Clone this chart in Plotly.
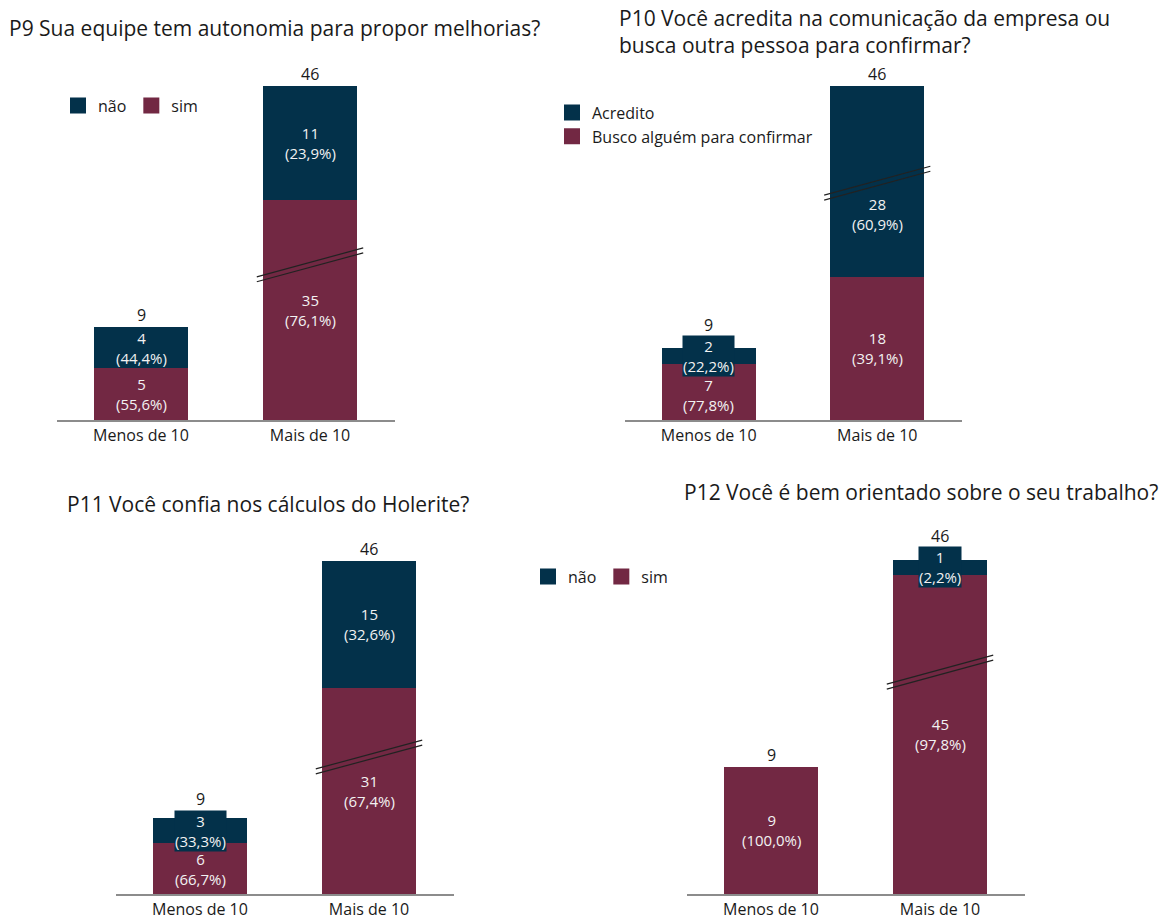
import plotly.graph_objects as go

# ---------------- data ----------------
categories = ["Menos de 10", "Mais de 10"]

p9_sim = [5, 35]
p9_nao = [4, 11]

p10_busco = [7, 18]
p10_acredito = [2, 28]

p11_sim = [6, 31]
p11_nao = [3, 15]

p12_sim = [9, 45]
p12_nao = [0, 1]

# ---------------- style ----------------
NAVY = "#03314a"
MAROON = "#722843"
W, H = 1164, 920
FONT = "Open Sans"
TXT = "#1a1a1a"
LBL = 15      # value-label font size
BOX_PX = 39   # approx. height (px) of a two-line value label


def fx(p):
    return p / W


def fy(p):
    return 1 - p / H


panels = [
    dict(title="P9 Sua equipe tem autonomia para propor melhorias?", tx=7, ty=28,
         bottom=("sim", p9_sim, MAROON), top=("não", p9_nao, NAVY),
         xdom=(56.5, 394.5), ydom=(40, 422), scale=10.4,
         cut=13.7, cut_series="bottom", cut_cat=1, brk=15.0,
         legend="legend"),
    dict(title="P10 Você acredita na comunicação da empresa ou<br>busca outra pessoa para confirmar?", tx=617, ty=31.5,
         bottom=("Busco alguém para confirmar", p10_busco, MAROON), top=("Acredito", p10_acredito, NAVY),
         xdom=(624.5, 961.5), ydom=(40, 422), scale=8.0,
         cut=4.0, cut_series="top", cut_cat=1, brk=29.75,
         legend="legend2"),
    dict(title="P11 Você confia nos cálculos do Holerite?", tx=65, ty=506,
         bottom=("sim", p11_sim, MAROON), top=("não", p11_nao, NAVY),
         xdom=(115.5, 453.5), ydom=(520, 898), scale=8.5,
         cut=6.6, cut_series="bottom", cut_cat=1, brk=16.2,
         legend=None),
    dict(title="P12 Você é bem orientado sobre o seu trabalho?", tx=682, ty=494,
         bottom=("sim", p12_sim, MAROON), top=("não", p12_nao, NAVY),
         xdom=(686.5, 1024.5), ydom=(520, 898), scale=14.2,
         cut=22.4, cut_series="bottom", cut_cat=1, brk=15.7,
         legend="legend3"),
]


def pct(v, t):
    return f"({100.0 * v / t:.1f}%)".replace(".", ",")


fig = go.Figure()
annotations = []
shapes = []

for k, p in enumerate(panels, start=1):
    xa = "x" if k == 1 else f"x{k}"
    ya = "y" if k == 1 else f"y{k}"
    s = p["scale"]
    bname, bvals, bcol = p["bottom"]
    tname, tvals, tcol = p["top"]
    bdisp = [v - (p["cut"] if (p["cut_series"] == "bottom" and i == p["cut_cat"]) else 0) for i, v in enumerate(bvals)]
    tdisp = [v - (p["cut"] if (p["cut_series"] == "top" and i == p["cut_cat"]) else 0) for i, v in enumerate(tvals)]
    grp = f"g{k}"

    fig.add_trace(go.Bar(x=[0, 1], y=bdisp, name=bname, marker=dict(color=bcol, line=dict(width=0)),
                         customdata=bvals, hovertemplate="%{customdata}<extra>" + bname + "</extra>",
                         xaxis=xa, yaxis=ya, showlegend=False, legendgroup=grp + "b"))
    fig.add_trace(go.Bar(x=[0, 1], y=tdisp, name=tname, marker=dict(color=tcol, line=dict(width=0)),
                         customdata=tvals, hovertemplate="%{customdata}<extra>" + tname + "</extra>",
                         xaxis=xa, yaxis=ya, showlegend=False, legendgroup=grp + "t"))
    if p["legend"] is not None:
        for nm, col, g in ((tname, tcol, grp + "t"), (bname, bcol, grp + "b")):
            fig.add_trace(go.Scatter(x=[None], y=[None], mode="markers", name=nm,
                                     marker=dict(symbol="square", size=18, color=col),
                                     xaxis=xa, yaxis=ya, legend=p["legend"], legendgroup=g,
                                     hoverinfo="skip"))

    brk = p["brk"]
    half = (BOX_PX / 2) / s
    for i in range(2):
        total = bvals[i] + tvals[i]
        # label centres (display units)
        cb = bdisp[i] / 2
        ct = bdisp[i] + tdisp[i] / 2
        if i == p["cut_cat"]:
            if abs(cb - brk) * s < 25:
                cb = brk - 31.0 / s
            if abs(ct - brk) * s < 25:
                ct = brk - 31.0 / s
        bg_b = bdisp[i] * s < BOX_PX
        bg_t = tvals[i] > 0 and tdisp[i] * s < BOX_PX
        # keep the lower label clear of an overflowing upper label box
        if bg_t and bvals[i] > 0 and (cb + half) > (ct - half):
            cb -= min((cb + half) - (ct - half), 5.0 / s)
        top_box = 0
        for v, c, col, bg in ((bvals[i], cb, bcol, bg_b), (tvals[i], ct, tcol, bg_t)):
            if v <= 0:
                continue
            if bg:
                top_box = max(top_box, c + half)
            annotations.append(dict(
                x=i, y=c, xref=xa, yref=ya, text=f"{v}<br>{pct(v, total)}", showarrow=False,
                font=dict(family=FONT, size=LBL, color="#f2f2f2"),
                bgcolor=col if bg else "rgba(0,0,0,0)", borderpad=0,
                xanchor="center", yanchor="middle"))
        ytot = max(bdisp[i] + tdisp[i], top_box)
        annotations.append(dict(
            x=i, y=ytot, xref=xa, yref=ya, text=str(total), showarrow=False,
            font=dict(family=FONT, size=16, color=TXT), xanchor="center", yanchor="bottom", yshift=-1))

    # broken-axis marks
    for off in (2.5, -2.5):
        shapes.append(dict(type="line", xref=xa, yref=ya,
                           x0=1 - 0.315, x1=1 + 0.315,
                           y0=brk + off / s - 14.5 / s, y1=brk + off / s + 14.5 / s,
                           line=dict(color="#222222", width=1.2)))

    ymax = (p["ydom"][1] - p["ydom"][0]) / s
    axkey = "xaxis" if k == 1 else f"xaxis{k}"
    aykey = "yaxis" if k == 1 else f"yaxis{k}"
    fig.update_layout({
        axkey: dict(domain=[fx(p["xdom"][0]), fx(p["xdom"][1])], range=[-0.5, 1.5],
                    tickmode="array", tickvals=[0, 1], ticktext=categories,
                    showline=True, linecolor="#8c8c8c", linewidth=2, ticks="",
                    showgrid=False, zeroline=False, fixedrange=True, anchor=ya,
                    tickfont=dict(family=FONT, size=16, color=TXT)),
        aykey: dict(domain=[fy(p["ydom"][1]), fy(p["ydom"][0])], range=[0, ymax],
                    visible=False, showgrid=False, zeroline=False, fixedrange=True, anchor=xa),
    })

    annotations.append(dict(x=fx(p["tx"]), y=fy(p["ty"]), xref="paper", yref="paper",
                            text=p["title"], showarrow=False, xanchor="left", yanchor="middle", align="left",
                            font=dict(family=FONT, size=21, color=TXT)))

legend_font = dict(family=FONT, size=16, color=TXT)
fig.update_layout(
    width=W, height=H,
    margin=dict(l=0, r=0, t=0, b=0),
    paper_bgcolor="white", plot_bgcolor="white",
    barmode="stack", bargap=0.444,
    font=dict(family=FONT, color=TXT),
    annotations=annotations,
    shapes=shapes,
    legend=dict(orientation="h", x=fx(58), y=fy(106), xanchor="left", yanchor="middle",
                traceorder="normal", font=legend_font, bgcolor="rgba(0,0,0,0)", itemsizing="trace"),
    legend2=dict(orientation="v", x=fx(552), y=fy(96), xanchor="left", yanchor="top",
                 traceorder="normal", font=legend_font, bgcolor="rgba(0,0,0,0)", itemsizing="trace"),
    legend3=dict(orientation="h", x=fx(528), y=fy(579), xanchor="left", yanchor="middle",
                 traceorder="normal", font=legend_font, bgcolor="rgba(0,0,0,0)", itemsizing="trace"),
)

fig.write_html("out.html")
